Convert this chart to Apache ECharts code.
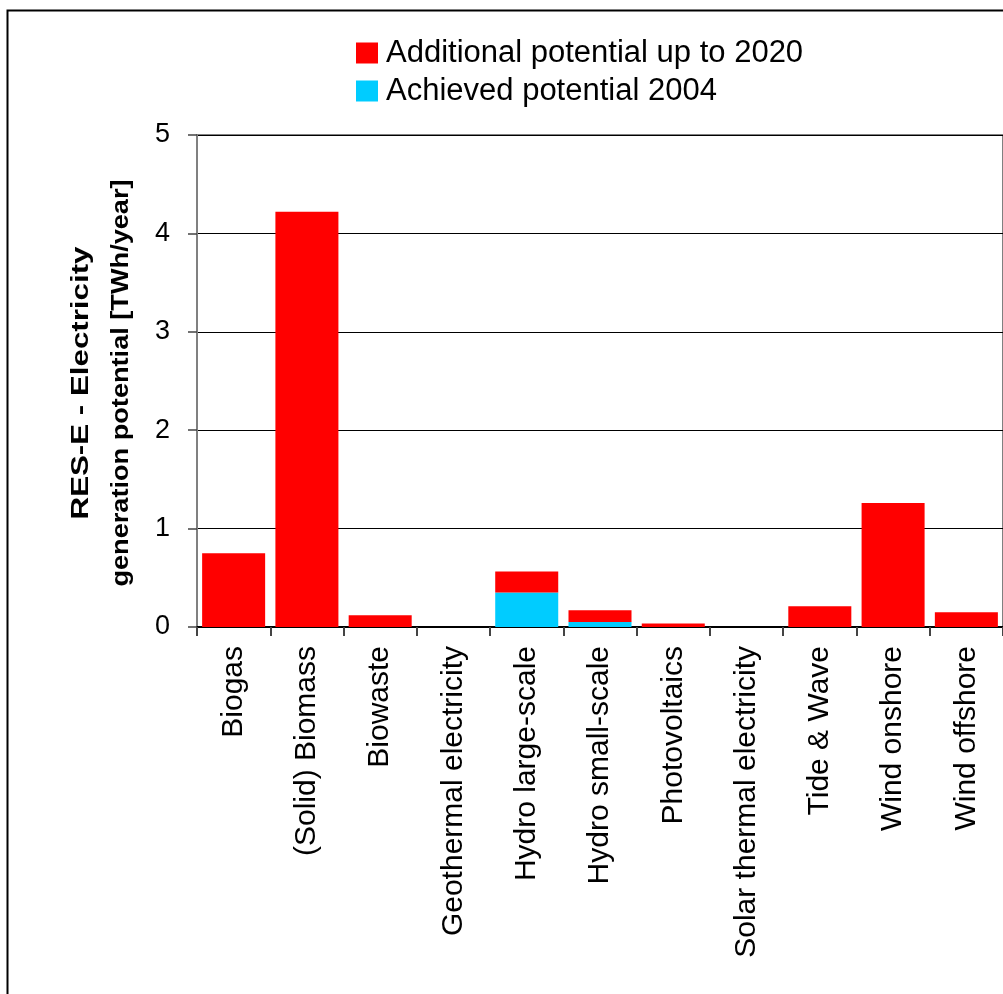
<!DOCTYPE html>
<html>
<head>
<meta charset="utf-8">
<script src="https://cdn.jsdelivr.net/npm/echarts@6/dist/echarts.min.js"></script>
<style>
html,body{margin:0;padding:0;background:#fff;}
#chart{width:1003px;height:994px;}
</style>
</head>
<body>
<div id="chart"></div>
<script>
const categories = ["Biogas","(Solid) Biomass","Biowaste","Geothermal electricity","Hydro large-scale","Hydro small-scale","Photovoltaics","Solar thermal electricity","Tide & Wave","Wind onshore","Wind offshore"];
const achieved2004 = [0, 0, 0, 0, 0.35, 0.05, 0, 0, 0, 0, 0];
const additional2020 = [0.75, 4.22, 0.12, 0, 0.215, 0.12, 0.035, 0, 0.21, 1.26, 0.15];
const yTicks = [0, 1, 2, 3, 4, 5];
const seriesNames = ["Additional potential up to 2020", "Achieved potential 2004"];
const yTitleLines = ["RES-E - Electricity", "generation potential [TWh/year]"];

const FONT = "Liberation Sans, Arial, sans-serif";
const chart = echarts.init(document.getElementById('chart'), null, {renderer: 'canvas'});
chart.setOption({
  animation: false,
  backgroundColor: '#fff',
  textStyle: {fontFamily: FONT, color: '#000'},
  grid: {left: 197, top: 135, width: 810, height: 492, show: true, borderColor: '#808080', borderWidth: 2, backgroundColor: 'transparent'},
  legend: {
    orient: 'vertical', left: 356, top: 36, padding: 0, itemWidth: 22, itemHeight: 21, itemGap: 4,
    data: seriesNames, icon: 'rect',
    textStyle: {fontSize: 31, lineHeight: 34, fontFamily: FONT, color: '#000', padding: [0,0,0,3]}
  },
  xAxis: {
    type: 'category', data: categories,
    axisLine: {lineStyle: {color: '#000', width: 2}},
    axisTick: {show: true, length: 9, lineStyle: {color: '#444', width: 2}},
    axisLabel: {rotate: 90, fontSize: 30, color: '#000', fontFamily: FONT, margin: 19, interval: 0}
  },
  yAxis: {
    type: 'value', min: 0, max: 5, interval: 1,
    axisLine: {show: true, lineStyle: {color: '#808080', width: 2}},
    axisTick: {show: true, length: 9, lineStyle: {color: '#444', width: 1.5}},
    axisLabel: {fontSize: 27, color: '#000', fontFamily: FONT, margin: 27,
      formatter: v => yTicks.includes(v) ? String(v) : ''},
    splitLine: {show: true, lineStyle: {color: '#000', width: 1}}
  },
  graphic: [
    {type: 'rect', left: 5, top: 8, shape: {width: 1200, height: 1200}, style: {fill: 'none', stroke: '#000', lineWidth: 2}, silent: true, z: -10},
    {type: 'text', x: 82, y: 383, rotation: Math.PI / 2, scaleX: 1.36, scaleY: 1,
      style: {text: yTitleLines[0], fontSize: 23, fontWeight: 'bold', fontFamily: FONT, fill: '#000', align: 'center', verticalAlign: 'middle'}},
    {type: 'text', x: 122, y: 383, rotation: Math.PI / 2, scaleX: 1.18, scaleY: 1,
      style: {text: yTitleLines[1], fontSize: 23, fontWeight: 'bold', fontFamily: FONT, fill: '#000', align: 'center', verticalAlign: 'middle'}}
  ],
  series: [
    {name: seriesNames[1], type: 'bar', stack: 's', data: achieved2004, barCategoryGap: '14%', itemStyle: {color: '#00CCFF'}},
    {name: seriesNames[0], type: 'bar', stack: 's', data: additional2020, barCategoryGap: '14%', itemStyle: {color: '#FF0000'}}
  ]
});
</script>
</body>
</html>
